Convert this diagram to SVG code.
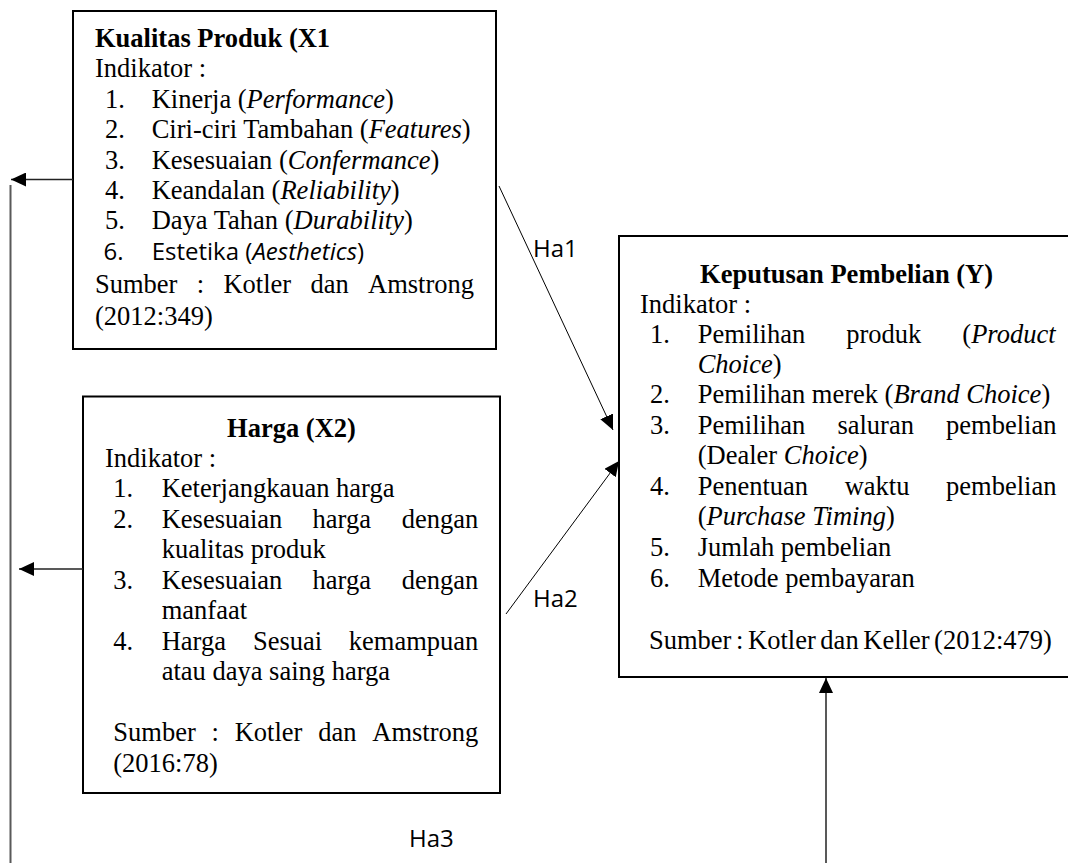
<svg xmlns="http://www.w3.org/2000/svg" width="1068" height="863" viewBox="0 0 1068 863">
<style>
.box{fill:#fff;stroke:#000;stroke-width:2}
.t{font-family:"Liberation Serif","Times New Roman",serif;font-size:26.5px;fill:#000}
.b{font-weight:bold}
.i{font-style:italic}
.c{font-family:"Open Sans","Liberation Sans",sans-serif;font-size:24px;fill:#000}
.mid{text-anchor:middle}
.ln{fill:none;stroke:#000;stroke-width:1}
.hz{fill:none;stroke:#222;stroke-width:1.5}
.gr{fill:none;stroke:#595959;stroke-width:2}
</style>
<defs>
<marker id="ah" viewBox="0 0 15 14" refX="15" refY="7" markerWidth="15" markerHeight="14" markerUnits="userSpaceOnUse" orient="auto">
<path d="M0,0 L15,7 L0,14 Z" fill="#000"/>
</marker>
</defs>
<rect width="1068" height="863" fill="#fff"/>

<g id="node-x1">
<rect class="box" x="73" y="11" width="423" height="338"/>
<text class="t b" x="95" y="46.5">Kualitas Produk (X1</text>
<text class="t" x="95" y="76.5">Indikator :</text>
<text class="t" y="108"><tspan x="105">1.</tspan><tspan x="151.7">Kinerja (</tspan><tspan class="i">Performance</tspan><tspan>)</tspan></text>
<text class="t" y="138.3"><tspan x="105">2.</tspan><tspan x="151.7">Ciri-ciri Tambahan (</tspan><tspan class="i">Features</tspan><tspan>)</tspan></text>
<text class="t" y="168.5"><tspan x="105">3.</tspan><tspan x="151.7">Kesesuaian (</tspan><tspan class="i">Confermance</tspan><tspan>)</tspan></text>
<text class="t" y="199"><tspan x="105">4.</tspan><tspan x="151.7">Keandalan (</tspan><tspan class="i">Reliability</tspan><tspan>)</tspan></text>
<text class="t" y="229"><tspan x="105">5.</tspan><tspan x="151.7">Daya Tahan (</tspan><tspan class="i">Durability</tspan><tspan>)</tspan></text>
<text class="c" y="260"><tspan x="103.5">6.</tspan><tspan x="151.7">Estetika (</tspan><tspan class="i">Aesthetics</tspan><tspan>)</tspan></text>
<text class="t" y="293.3"><tspan x="95">Sumber</tspan><tspan x="196.7">:</tspan><tspan x="223.4">Kotler</tspan><tspan x="310.4">dan</tspan><tspan x="368">Amstrong</tspan></text>
<text class="t" x="95" y="325">(2012:349)</text>
</g>

<g id="node-x2">
<rect class="box" x="83" y="396.5" width="417" height="396.5"/>
<text class="t b mid" x="291.5" y="436.5">Harga (X2)</text>
<text class="t" x="105" y="467">Indikator :</text>
<text class="t" y="497.3"><tspan x="113.3">1.</tspan><tspan x="161.7">Keterjangkauan harga</tspan></text>
<text class="t" y="527.7"><tspan x="113.3">2.</tspan><tspan x="161.7">Kesesuaian</tspan><tspan x="312.6">harga</tspan><tspan x="401.7">dengan</tspan></text>
<text class="t" x="161.7" y="558.1">kualitas produk</text>
<text class="t" y="588.5"><tspan x="113.3">3.</tspan><tspan x="161.7">Kesesuaian</tspan><tspan x="312.6">harga</tspan><tspan x="401.7">dengan</tspan></text>
<text class="t" x="161.7" y="618.9">manfaat</text>
<text class="t" y="649.5"><tspan x="113.3">4.</tspan><tspan x="161.7">Harga</tspan><tspan x="253">Sesuai</tspan><tspan x="348.8">kemampuan</tspan></text>
<text class="t" x="161.7" y="680">atau daya saing harga</text>
<text class="t" y="741"><tspan x="113.3">Sumber</tspan><tspan x="211.5">:</tspan><tspan x="234.7">Kotler</tspan><tspan x="318.2">dan</tspan><tspan x="372.3">Amstrong</tspan></text>
<text class="t" x="113.3" y="771.5">(2016:78)</text>
</g>

<g id="node-y">
<rect class="box" x="619" y="236" width="460" height="441"/>
<text class="t b mid" x="846.6" y="283">Keputusan Pembelian (Y)</text>
<text class="t" x="640" y="313">Indikator :</text>
<text class="t" y="343"><tspan x="650">1.</tspan><tspan x="697.7">Pemilihan</tspan><tspan x="846.2">produk</tspan><tspan x="962.3">(</tspan><tspan class="i">Product</tspan></text>
<text class="t" y="373"><tspan x="697.7" class="i">Choice</tspan><tspan>)</tspan></text>
<text class="t" y="403"><tspan x="650">2.</tspan><tspan x="697.7">Pemilihan merek (</tspan><tspan class="i">Brand Choice</tspan><tspan>)</tspan></text>
<text class="t" y="433.5"><tspan x="650">3.</tspan><tspan x="697.7">Pemilihan</tspan><tspan x="837.4">saluran</tspan><tspan x="946.1">pembelian</tspan></text>
<text class="t" y="464"><tspan x="697.7">(Dealer </tspan><tspan class="i">Choice</tspan><tspan>)</tspan></text>
<text class="t" y="494.5"><tspan x="650">4.</tspan><tspan x="697.7">Penentuan</tspan><tspan x="844.7">waktu</tspan><tspan x="946.1">pembelian</tspan></text>
<text class="t" y="525"><tspan x="697.7">(</tspan><tspan class="i">Purchase Timing</tspan><tspan>)</tspan></text>
<text class="t" y="556"><tspan x="650">5.</tspan><tspan x="697.7">Jumlah pembelian</tspan></text>
<text class="t" y="586.5"><tspan x="650">6.</tspan><tspan x="697.7">Metode pembayaran</tspan></text>
<text class="t" x="649" y="648.5" style="word-spacing:-2px">Sumber : Kotler dan Keller (2012:479)</text>
</g>

<g id="connectors">
<line class="hz" x1="73" y1="179.5" x2="11" y2="179.5" marker-end="url(#ah)"/>
<line class="hz" x1="83" y1="569" x2="19" y2="569" marker-end="url(#ah)"/>
<line class="gr" x1="10.5" y1="185" x2="10.5" y2="863"/>
<line class="ln" x1="499" y1="186" x2="613" y2="430" marker-end="url(#ah)"/>
<line class="ln" x1="506" y1="614" x2="619" y2="461" marker-end="url(#ah)"/>
<line class="gr" x1="826" y1="863" x2="826" y2="678" marker-end="url(#ah)"/>
<text class="c" x="533" y="257">Ha1</text>
<text class="c" x="533" y="607">Ha2</text>
<text class="c" x="409" y="847">Ha3</text>
</g>
</svg>
